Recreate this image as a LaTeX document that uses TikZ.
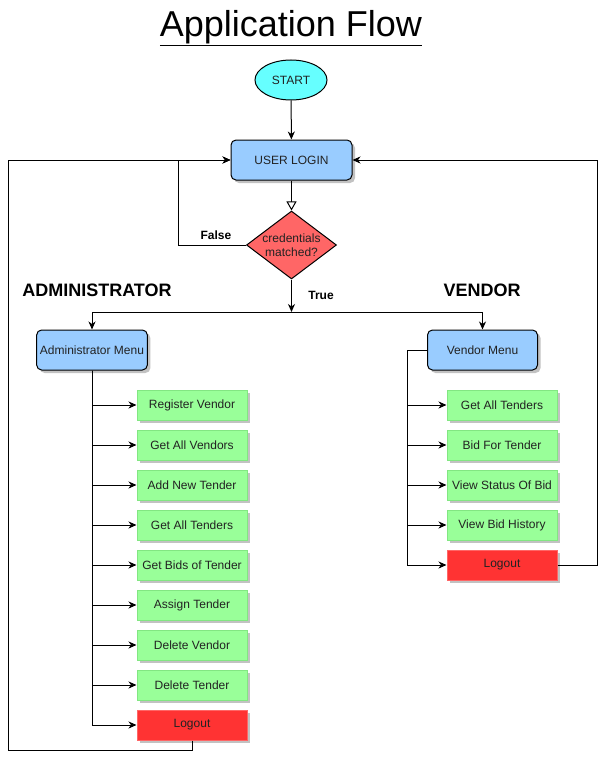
\documentclass[tikz,border=0pt]{standalone}
\usepackage{fontspec}
\setmainfont{Liberation Sans}
\usetikzlibrary{shapes,shapes.geometric,arrows.meta,positioning,calc,shadows}
\definecolor{startcyan}{HTML}{66FFFF}
\definecolor{menublue}{HTML}{99CCFF}
\definecolor{itemgreen}{HTML}{99FF99}
\definecolor{itemgreenline}{HTML}{82E682}
\definecolor{itemred}{HTML}{FF3333}
\definecolor{itemredline}{HTML}{FF6666}
\definecolor{decred}{HTML}{FF6666}
\definecolor{textgray}{HTML}{222222}
\tikzset{
    boxshadow/.style={drop shadow={shadow xshift=3pt, shadow yshift=-3pt, fill=black!40, opacity=0.6}},
    menubox/.style={draw, line width=1pt, rounded corners=5pt, fill=menublue, minimum width=110pt, minimum height=40pt, boxshadow, font=\fontsize{12}{14}\selectfont, text=textgray},
    itembox/.style={draw=itemgreenline, line width=1pt, fill=itemgreen, minimum width=110pt, minimum height=30pt, boxshadow, font=\fontsize{12}{14}\selectfont, text=textgray},
    logoutbox/.style={itembox, draw=itemredline, fill=itemred},
    arr/.style={line width=1pt, -{Stealth[length=8pt, width=7pt, inset=2.5pt]}},
    sidelabel/.style={font=\bfseries\fontsize{18}{21}\selectfont},
    branchlabel/.style={font=\bfseries\fontsize{12}{14}\selectfont}
}

\begin{document}
\begin{tikzpicture}[x=1pt, y=-1pt]
    \useasboundingbox (0,0) rectangle (607,760);
    \node (title) at (291,28) {\fontsize{36}{40}\selectfont\underline{Application Flow}};

    % top part
    \node[draw, ellipse, line width=1pt, fill=startcyan, minimum width=72pt, minimum height=40pt, inner sep=0pt, font=\fontsize{12}{14}\selectfont, text=textgray] (start) at (291,80) {START};
    \node[menubox, minimum width=121pt] (login) at (291.5,160) {USER LOGIN};
    \node[draw, diamond, line width=1pt, fill=decred, minimum width=90pt, minimum height=68pt, inner sep=0pt,
          label={[align=center, font=\fontsize{12}{14}\selectfont, text=textgray]center:credentials\\matched?}] (dec) at (291.5,245) {};
    \draw[arr] (start) -- (login);
    \draw[line width=1pt, -{Triangle[open, fill=white, length=9pt, width=10pt]}] (login) -- (dec);

    \coordinate (falsecorner) at (178,160);
    \draw[arr] (dec.west) -| (falsecorner) -- (login.west);
    \node[branchlabel] (falselbl) at (216,235) {False};

    % two menus
    \node[sidelabel] (adminlbl) at (97,290) {ADMINISTRATOR};
    \node[sidelabel] (vendorlbl) at (482,290) {VENDOR};
    \node[menubox] (admin) at (92,350) {Administrator Menu};
    \node[menubox] (vendor) at (482.5,350) {Vendor Menu};

    \coordinate (split) at (291.5,312);
    \draw[arr] (dec.south) -- (split);
    \draw[arr] (split) -| (admin.north);
    \draw[arr] (split) -| (vendor.north);
    \node[branchlabel] (truelbl) at (321,295) {True};

    % administrator items
    \foreach \txt [count=\i] in {Register Vendor, Get All Vendors, Add New Tender, Get All Tenders, Get Bids of Tender, Assign Tender, Delete Vendor, Delete Tender}
        \node[itembox] (a\i) at (192,365+40*\i) {\txt};
    \node[logoutbox] (alogout) at (192,725) {Logout};
    \foreach \i in {1,...,8}
        \draw[arr] (admin.south) |- (a\i.west);
    \draw[arr] (admin.south) |- (alogout.west);

    % vendor items
    \foreach \txt [count=\i] in {Get All Tenders, Bid For Tender, View Status Of Bid, View Bid History}
        \node[itembox] (v\i) at (502,365+40*\i) {\txt};
    \node[logoutbox] (vlogout) at (502,565) {Logout};
    \coordinate (vspine) at (407,350);
    \foreach \i in {1,...,4}
        \draw[arr] (vendor.west) -- (vspine) |- (v\i.west);
    \draw[arr] (vendor.west) -- (vspine) |- (vlogout.west);

    % back to login
    \coordinate (leftback) at (8,750);
    \coordinate (rightback) at (597,565);
    \draw[arr] (alogout.south) |- (leftback) |- (login.west);
    \draw[arr] (vlogout.east) -- (rightback) |- (login.east);
\end{tikzpicture}
\end{document}
